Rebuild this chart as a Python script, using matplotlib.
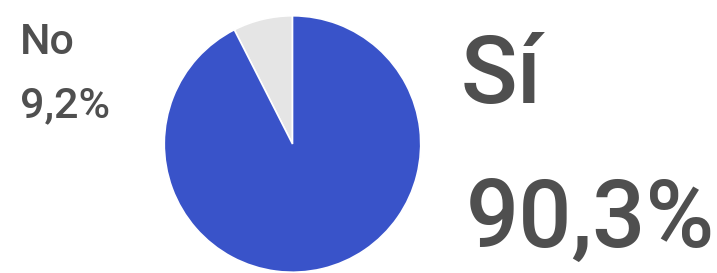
import matplotlib.pyplot as plt

W, H = 717, 273

categories = ["No", "Sí"]
label_texts = ["9,2%", "90,3%"]
# slice sizes as drawn in the picture (the grey wedge spans ~27 degrees)
slice_shares = [7.5, 92.5]
colors = ["#e5e5e5", "#3953c9"]
text_color = "#4f4f4f"

fig = plt.figure(figsize=(W / 100, H / 100), dpi=100)

# pie: center ~ (292, 144) px, radius ~ 129.5 px
cx, cy, r = 292.5, 144, 129.5
ax = fig.add_axes([(cx - r) / W, (H - cy - r) / H, 2 * r / W, 2 * r / H])
ax.pie(slice_shares, colors=colors, startangle=90, counterclock=True,
       radius=1, wedgeprops=dict(edgecolor="white", linewidth=1.2))
ax.set_xlim(-1.01, 1.01)
ax.set_ylim(-1.01, 1.01)
ax.set_aspect("equal")
ax.axis("off")

def put(x, y, s, size, weight):
    fig.text(x / W, 1 - y / H, s, fontsize=size, fontweight=weight,
             family="Roboto", color=text_color, ha="left", va="baseline")

put(20, 54, categories[0], 31, "medium")
put(20, 117, label_texts[0], 31, "medium")
put(461, 103, categories[1], 67.5, "medium")
put(466, 247, label_texts[1], 67.5, "medium")

fig.savefig("out.png", dpi=100)
